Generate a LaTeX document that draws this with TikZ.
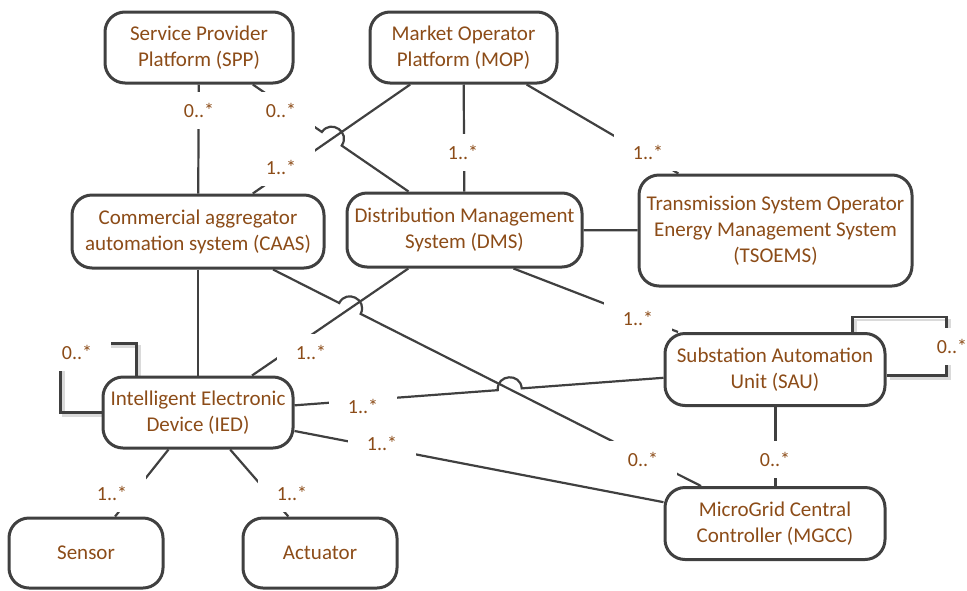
\documentclass[tikz,border=0pt]{standalone}
\usepackage{fontspec}
\setmainfont{Carlito}
\usetikzlibrary{calc,intersections}
\pgfdeclarelayer{background}
\pgfdeclarelayer{mid}
\pgfsetlayers{background,mid,main}
\definecolor{txtbrown}{RGB}{140,76,24}
\definecolor{lncol}{RGB}{64,64,64}
\definecolor{shcol}{RGB}{218,218,218}
\tikzset{
  box/.style={draw=lncol, line width=3pt, rounded corners=20pt, fill=white, text=txtbrown,
    align=center, font=\fontsize{21}{26}\selectfont, inner sep=0pt},
  conn/.style={draw=lncol, line width=2.2pt},
  mult/.style={fill=white, text=txtbrown, font=\fontsize{20}{24}\selectfont,
    minimum width=68pt, minimum height=37pt, inner sep=0pt},
  loopsh/.style={draw=shcol, line width=2.5pt, transform canvas={xshift=3pt,yshift=-3pt}},
}
\begin{document}
\begin{tikzpicture}[x=1pt,y=-1pt]
\useasboundingbox (0,0) rectangle (967,590);
% boxes
\node[box, minimum width=188pt, minimum height=71pt] (spp) at (199,47.5) {Service Provider\\Platform (SPP)};
\node[box, minimum width=187pt, minimum height=71pt] (mop) at (463.5,47.5) {Market Operator\\Platform (MOP)};
\node[box, minimum width=252pt, minimum height=73pt] (caas) at (198,231.5) {Commercial aggregator\\automation system (CAAS)};
\node[box, minimum width=235pt, minimum height=74pt] (dms) at (464.5,230) {Distribution Management\\System (DMS)};
\node[box, minimum width=273pt, minimum height=111pt] (tso) at (775.5,230.5) {Transmission System Operator\\Energy Management System\\(TSOEMS)};
\node[box, minimum width=220pt, minimum height=72pt] (sau) at (775,369.5) {Substation Automation\\Unit (SAU)};
\node[box, minimum width=220pt, minimum height=72pt] (mgcc) at (775,523.5) {MicroGrid Central\\Controller (MGCC)};
\node[box, minimum width=190pt, minimum height=71pt] (ied) at (198,412.5) {Intelligent Electronic\\Device (IED)};
\node[box, minimum width=154pt, minimum height=70pt] (sensor) at (86,553) {Sensor};
\node[box, minimum width=154pt, minimum height=70pt] (act) at (320,553) {Actuator};

% crossing points
\path[name path=pmc] (mop) -- (caas);
\path[name path=psd] (spp) -- (dms);
\path[name path=pdi] (dms) -- (ied);
\path[name path=pcm] (caas) -- (mgcc);
\path[name path=pis] (ied) -- (sau);
\path[name intersections={of=psd and pmc, by=xa}];
\path[name intersections={of=pcm and pdi, by=xb}];
\path[name intersections={of=pis and pcm, by=xc}];
\coordinate (xa1) at ($(xa)!12pt!(spp)$);
\coordinate (xa2) at ($(xa)!12pt!(dms)$);
\coordinate (xb1) at ($(xb)!12pt!(caas)$);
\coordinate (xb2) at ($(xb)!12pt!(mgcc)$);
\coordinate (xc1) at ($(xc)!12pt!(ied)$);
\coordinate (xc2) at ($(xc)!12pt!(sau)$);

\begin{pgfonlayer}{background}
  \draw[conn] (spp) -- (caas);
  \draw[conn] (mop) -- (caas);
  \draw[conn] (mop) -- (dms);
  \draw[conn] (mop) -- (tso);
  \draw[conn] (dms) -- (tso);
  \draw[conn] ([xshift=49pt]dms.south) -- (sau);
  \draw[conn] (dms) -- (ied);
  \draw[conn] (caas) -- (ied);
  \draw[conn, line width=3pt] (sau) -- (mgcc);
  \draw[conn] (ied) -- (mgcc);
  \draw[conn] (ied) -- (sensor);
  \draw[conn] (ied) -- (act);
  % lines with jumps
  \draw[conn] (spp) -- (xa1) .. controls ($(xa1)!16pt!90:(xa)$) and ($(xa2)!16pt!-90:(xa)$) .. (xa2) -- (dms);
  \draw[conn] (caas) -- (xb1) .. controls ($(xb1)!16pt!90:(xb)$) and ($(xb2)!16pt!-90:(xb)$) .. (xb2) -- (mgcc);
  \draw[conn] (ied) -- (xc1) .. controls ($(xc1)!16pt!90:(xc)$) and ($(xc2)!16pt!-90:(xc)$) .. (xc2) -- (sau);
  % self associations
  \draw[loopsh] (ied.west) -- ++(-41,0) |- ([xshift=35pt,yshift=32pt]ied.north west) -- ([xshift=35pt]ied.north west);
  \draw[conn] (ied.west) -- ++(-41,0) |- ([xshift=35pt,yshift=32pt]ied.north west) -- ([xshift=35pt]ied.north west);
  \draw[loopsh] ([xshift=-34pt]sau.north east) -- ++(0,-15) -| ([xshift=60pt,yshift=-6pt]sau.east) -- ([yshift=-6pt]sau.east);
  \draw[conn] ([xshift=-34pt]sau.north east) -- ++(0,-15) -| ([xshift=60pt,yshift=-6pt]sau.east) -- ([yshift=-6pt]sau.east);
\end{pgfonlayer}

\begin{pgfonlayer}{mid}
  \node[mult] (m1) at (199,110) {0..*};
  \node[mult] (m2) at (281,110) {0..*};
  \node[mult] (m3) at (281,167) {1..*};
  \node[mult] (m4) at (463,152) {1..*};
  \node[mult] (m5) at (648,152) {1..*};
  \node[mult] (m6) at (638,318) {1..*};
  \node[mult] (m7) at (311,352) {1..*};
  \node[mult] (m8) at (363,406) {1..*};
  \node[mult] (m9) at (382,443) {1..*};
  \node[mult] (m10) at (643,459) {0..*};
  \node[mult] (m11) at (775,459) {0..*};
  \node[mult] (m12) at (112,493) {1..*};
  \node[mult] (m13) at (292,493) {1..*};
  \node[mult] (m14) at (77,352) {0..*};
  \node[mult] (m15) at (952,346) {0..*};
\end{pgfonlayer}
\end{tikzpicture}
\end{document}
